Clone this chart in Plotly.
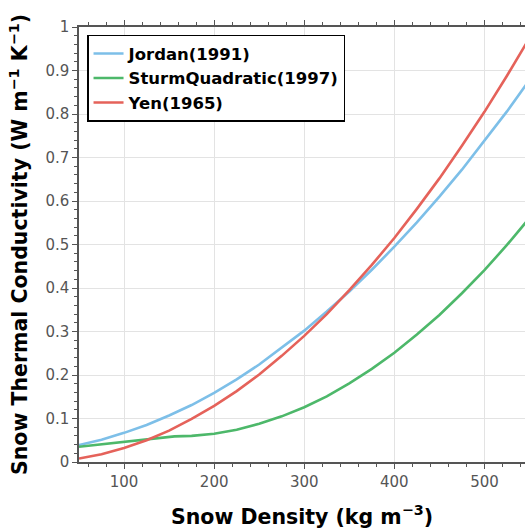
import plotly.graph_objects as go

density = [50, 75, 100, 125, 150, 175, 200, 225, 250, 275, 300, 325, 350,
           375, 400, 425, 450, 475, 500, 525, 550]
jordan = [0.039, 0.051, 0.067, 0.085, 0.107, 0.131, 0.159, 0.190, 0.224, 0.262,
          0.302, 0.346, 0.392, 0.442, 0.495, 0.551, 0.610, 0.672, 0.738, 0.806, 0.878]
yen = [0.008, 0.018, 0.032, 0.050, 0.072, 0.099, 0.129, 0.163, 0.201, 0.244,
       0.290, 0.340, 0.395, 0.453, 0.515, 0.582, 0.652, 0.727, 0.805, 0.888, 0.975]
sturm_density = [50, 75, 100, 125, 150, 156, 175, 200, 225, 250, 275, 300, 325, 350,
                 375, 400, 425, 450, 475, 500, 525, 550]
sturm = [0.035, 0.041, 0.046, 0.052, 0.058, 0.059, 0.060, 0.065, 0.074, 0.088, 0.105,
         0.126, 0.151, 0.181, 0.214, 0.251, 0.293, 0.338, 0.388, 0.441, 0.499, 0.561]

names = ["Jordan(1991)", "SturmQuadratic(1997)", "Yen(1965)"]
colors = ["#7DBFE8", "#4DB86A", "#E5625A"]

fig = go.Figure()
fig.add_trace(go.Scatter(x=density, y=jordan, mode="lines", name=names[0],
                         line=dict(color=colors[0], width=2.6)))
fig.add_trace(go.Scatter(x=sturm_density, y=sturm, mode="lines", name=names[1],
                         line=dict(color=colors[1], width=2.6)))
fig.add_trace(go.Scatter(x=density, y=yen, mode="lines", name=names[2],
                         line=dict(color=colors[2], width=2.6)))

axis_common = dict(
    showgrid=True, gridcolor="#e3e3e3", gridwidth=1,
    showline=True, linecolor="#555555", linewidth=1.5,
    ticks="outside", ticklen=5, tickwidth=1.2, tickcolor="#555555",
    tickfont=dict(family="DejaVu Sans", size=15, color="#555555"),
    zeroline=False,
)

fig.update_xaxes(
    range=[50, 545], tickvals=[100, 200, 300, 400, 500], mirror="ticks",
    minor=dict(dtick=20, tick0=0, ticks="outside", ticklen=3, tickcolor="#555555", showgrid=False),
    title=dict(text="Snow Density (kg m<sup>−3</sup>)",
               font=dict(family="DejaVu Sans", size=20.5, color="black", weight="bold"),
               standoff=20),
    **axis_common,
)
fig.update_yaxes(
    range=[0, 1], tickvals=[0, 0.1, 0.2, 0.3, 0.4, 0.5, 0.6, 0.7, 0.8, 0.9, 1],
    ticktext=["0", "0.1", "0.2", "0.3", "0.4", "0.5", "0.6", "0.7", "0.8", "0.9", "1"],
    minor=dict(dtick=0.02, tick0=0, ticks="outside", ticklen=3, tickcolor="#555555", showgrid=False),
    title=dict(text="Snow Thermal Conductivity (W m<sup>−1</sup> K<sup>−1</sup>)",
               font=dict(family="DejaVu Sans", size=20.5, color="black", weight="bold"),
               standoff=12),
    **axis_common,
)

fig.update_layout(
    width=525, height=532,
    margin=dict(l=79, r=0, t=27, b=70),
    plot_bgcolor="white", paper_bgcolor="white",
    font=dict(family="DejaVu Sans"),
    legend=dict(x=0.018, y=0.982, xanchor="left", yanchor="top",
                bgcolor="white", bordercolor="black", borderwidth=1.5,
                font=dict(family="DejaVu Sans", size=16.5, color="black", weight="bold"),
                tracegroupgap=0, itemwidth=30),
    showlegend=True,
)

fig.write_html("out.html", config={"displayModeBar": False},
               post_script="document.body.style.margin='0';document.body.style.overflow='hidden';")
